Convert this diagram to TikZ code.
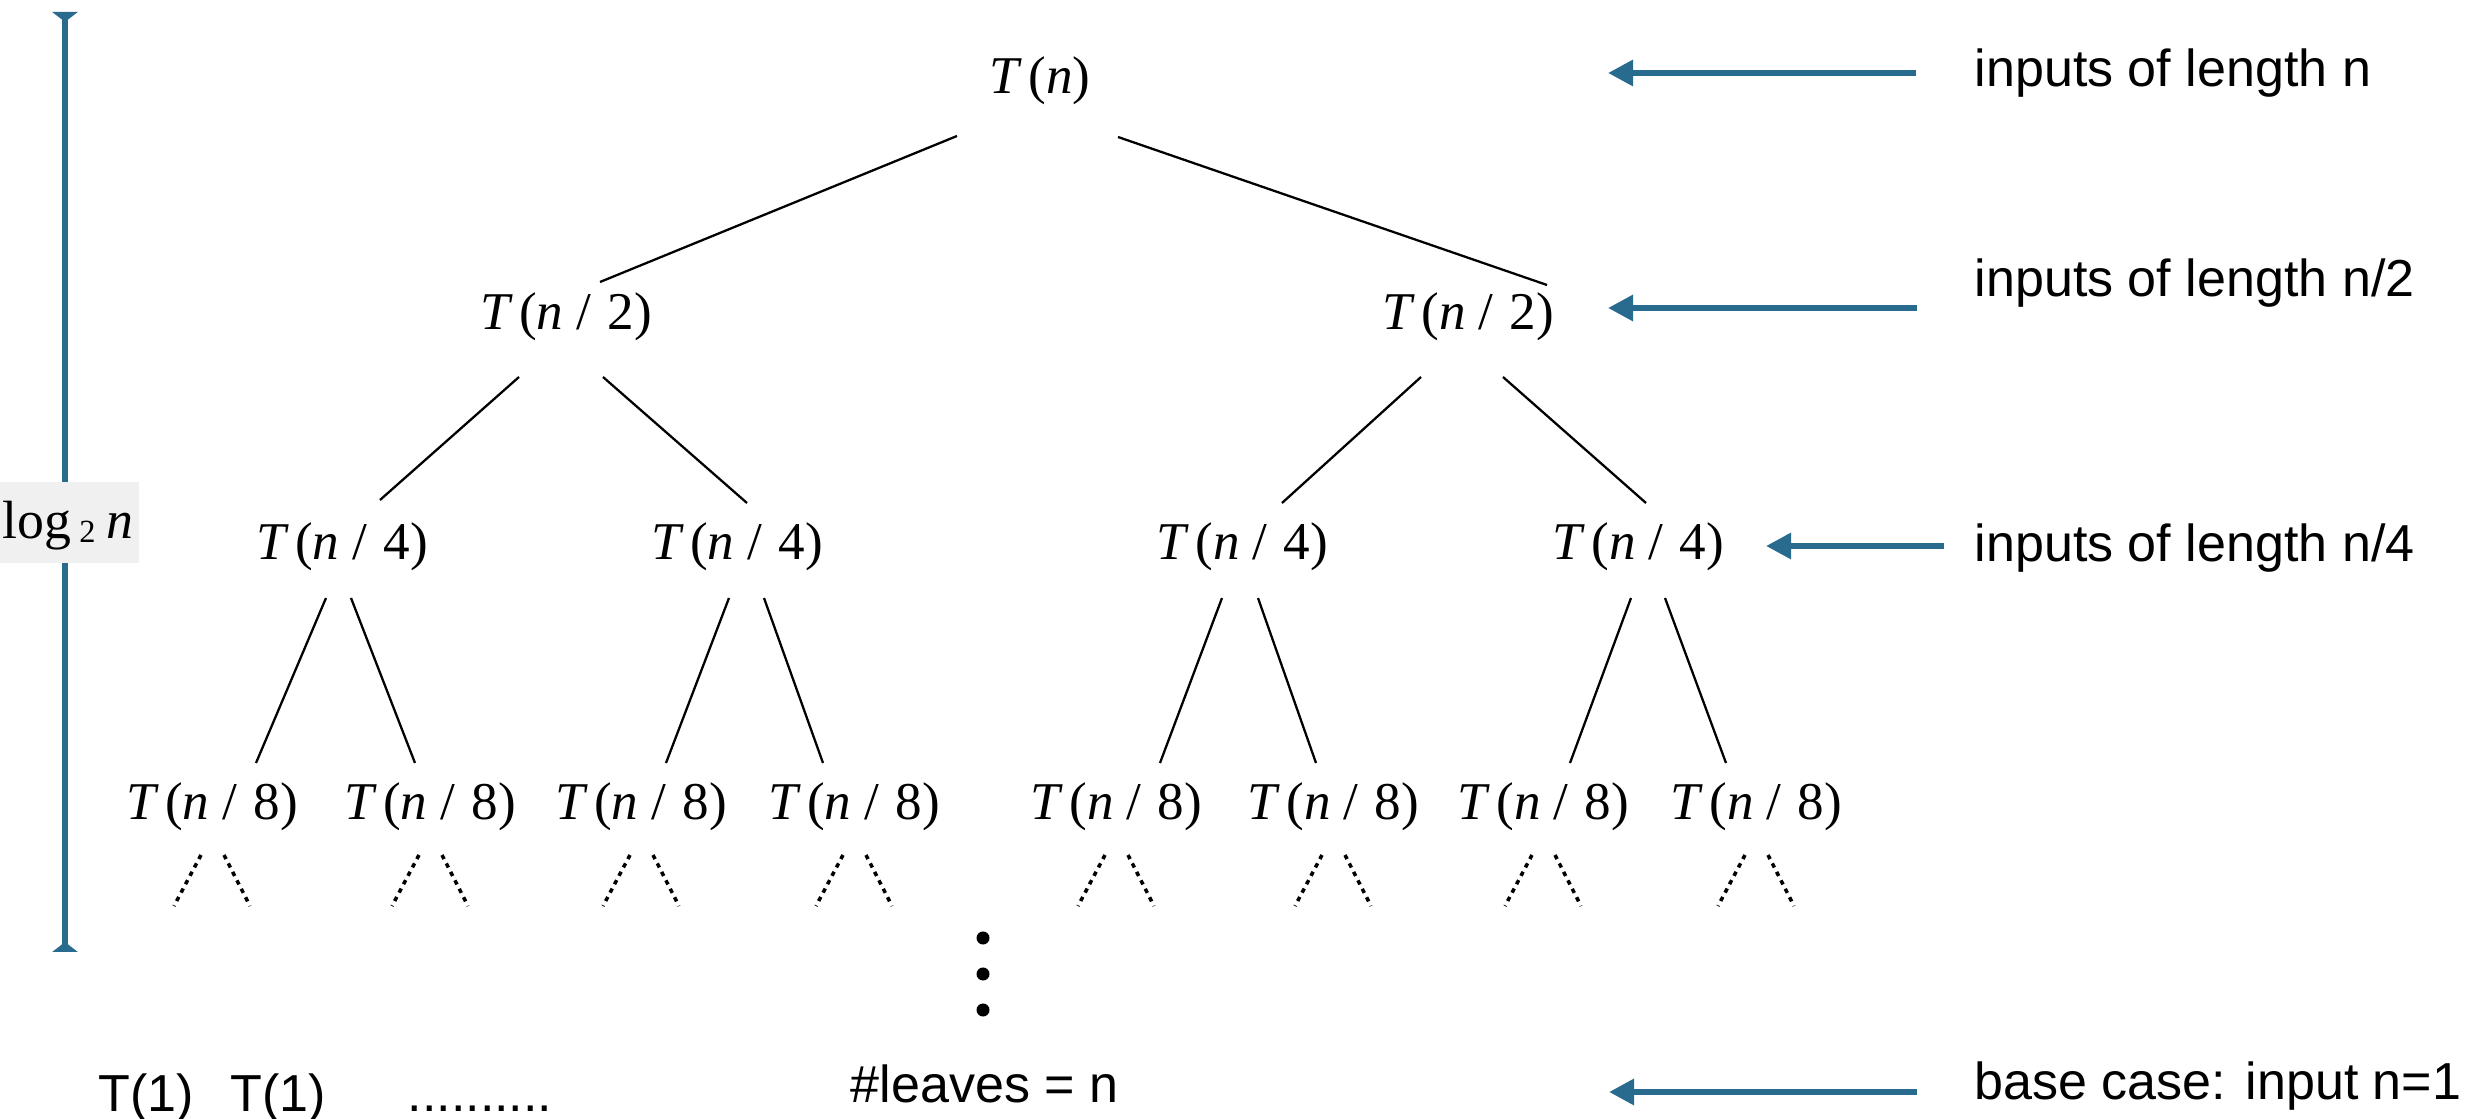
\documentclass[tikz,border=0pt]{standalone}
\usepackage{fontspec}
\setmainfont{Liberation Serif}
\newfontfamily\hel{Liberation Sans}
\usetikzlibrary{arrows.meta,calc}
\definecolor{barblue}{HTML}{286B8E}
\definecolor{logbg}{HTML}{F0F0F0}
\newcommand\Tk[1]{\textit{T}\kern0.12em(\textit{n}\kern0.25em/\kern0.3em#1)}
\newcommand\dotpair[1]{%
  \draw[dotsty] ($(#1.base)+(-11,35)$) -- ($(#1.base)+(-38,86)$);
  \draw[dotsty] ($(#1.base)+(12,35)$) -- ($(#1.base)+(38,86)$);}
\begin{document}
\begin{tikzpicture}[x=0.01cm,y=-0.01cm,
  mathnode/.style={font=\fontsize{15.1}{18}\selectfont, anchor=base, inner sep=0},
  lab/.style={font=\hel\fontsize{14.8}{18}\selectfont, anchor=base west, inner sep=0},
  bottomtxt/.style={font=\hel\fontsize{14.8}{18}\selectfont, anchor=base, inner sep=0},
  edge/.style={line width=0.65pt},
  dotsty/.style={line width=1pt, dash pattern=on 1.3pt off 1.4pt},
  bluearrow/.style={draw=barblue, line width=1.7pt, -{Triangle[length=0.25cm,width=0.25cm]}},
  vdot/.style={circle, fill=black, inner sep=0, minimum size=0.13cm}]
\useasboundingbox (0,0) rectangle (2481,1119);

% height bar
\coordinate (barT) at (65,12);
\coordinate (barB) at (65,952);
\draw[barblue, line width=1.7pt,
  {Triangle[reversed,length=0.1cm,width=0.25cm]}-{Triangle[reversed,length=0.1cm,width=0.25cm]}]
  (barT) -- (barB);
\node[fill=logbg, minimum width=1.39cm, minimum height=0.81cm, inner sep=0] (lgbox) at (69.5,522.5) {};
\node[anchor=base, inner sep=0, font=\fontsize{15.3}{18}\selectfont] (lg) at (68,539)
  {log\kern0.15em\raisebox{-1.1pt}{\fontsize{9.2}{10}\selectfont 2}\kern0.2em\textit{n}};

% tree nodes
\node[mathnode] (r) at (1040,94) {\textit{T}\kern0.12em(\textit{n})};
\node[mathnode] (a) at (566,330) {\Tk{2}};
\node[mathnode] (b) at (1468,330) {\Tk{2}};
\node[mathnode] (c1) at (342,560) {\Tk{4}};
\node[mathnode] (c2) at (737,560) {\Tk{4}};
\node[mathnode] (c3) at (1242,560) {\Tk{4}};
\node[mathnode] (c4) at (1638,560) {\Tk{4}};
\node[mathnode] (d1) at (212,820) {\Tk{8}};
\node[mathnode] (d2) at (430,820) {\Tk{8}};
\node[mathnode] (d3) at (641,820) {\Tk{8}};
\node[mathnode] (d4) at (854,820) {\Tk{8}};
\node[mathnode] (d5) at (1116,820) {\Tk{8}};
\node[mathnode] (d6) at (1333,820) {\Tk{8}};
\node[mathnode] (d7) at (1543,820) {\Tk{8}};
\node[mathnode] (d8) at (1756,820) {\Tk{8}};

% edges
\draw[edge] ($(r.base)+(-83,42)$) -- ($(a.base)+(34,-48)$);
\draw[edge] ($(r.base)+(78,43)$) -- ($(b.base)+(79,-45)$);
\draw[edge] ($(a.base)+(-47,47)$) -- ($(c1.base)+(38,-60)$);
\draw[edge] ($(a.base)+(37,47)$) -- ($(c2.base)+(10,-57)$);
\draw[edge] ($(b.base)+(-47,47)$) -- ($(c3.base)+(40,-57)$);
\draw[edge] ($(b.base)+(35,47)$) -- ($(c4.base)+(8,-57)$);
\draw[edge] ($(c1.base)+(-16,38)$) -- ($(d1.base)+(44,-57)$);
\draw[edge] ($(c1.base)+(9,38)$) -- ($(d2.base)+(-15,-57)$);
\draw[edge] ($(c2.base)+(-8,38)$) -- ($(d3.base)+(25,-57)$);
\draw[edge] ($(c2.base)+(27,38)$) -- ($(d4.base)+(-31,-57)$);
\draw[edge] ($(c3.base)+(-20,38)$) -- ($(d5.base)+(44,-57)$);
\draw[edge] ($(c3.base)+(16,38)$) -- ($(d6.base)+(-17,-57)$);
\draw[edge] ($(c4.base)+(-7,38)$) -- ($(d7.base)+(27,-57)$);
\draw[edge] ($(c4.base)+(27,38)$) -- ($(d8.base)+(-30,-57)$);

% dotted continuations
\dotpair{d1}\dotpair{d2}\dotpair{d3}\dotpair{d4}
\dotpair{d5}\dotpair{d6}\dotpair{d7}\dotpair{d8}

% vertical dots
\node[vdot] (v1) at (983,938) {};
\node[vdot] (v2) at (983,974) {};
\node[vdot] (v3) at (983,1010) {};

% bottom row
\node[bottomtxt] (t1) at (146,1111) {T(1)};
\node[bottomtxt] (t2) at (278,1111) {T(1)};
\node[bottomtxt, anchor=base west] (ell) at (407,1111) {..........};
\node[bottomtxt, anchor=base west] (leaves) at (850,1103) {\#leaves = n};

% right labels
\node[lab] (l1) at (1974,87) {inputs of length n};
\node[lab] (l2) at (1974,297) {inputs of length n/2};
\node[lab] (l3) at (1974,562) {inputs of length n/4};
\node[lab] (l4) at (1974,1099) {base case: input n=1};

\draw[bluearrow] ($(l1.base west)+(-58,-14)$) -- ($(r.base)+(568,-21)$);
\draw[bluearrow] ($(l2.base west)+(-57,11)$) -- ($(b.base)+(140,-22)$);
\draw[bluearrow] ($(l3.base west)+(-30,-16)$) -- ($(c4.base)+(128,-14)$);
\draw[bluearrow] ($(l4.base west)+(-57,-7)$) -- ($(leaves.base west)+(759,-11)$);
\end{tikzpicture}
\end{document}
